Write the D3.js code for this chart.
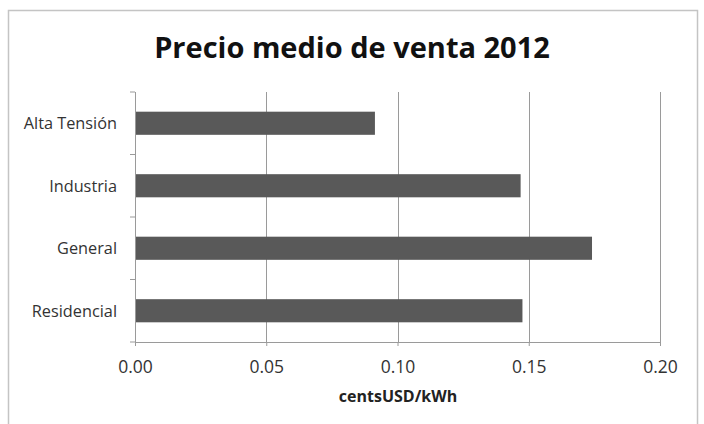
<!DOCTYPE html>
<html><head><meta charset="utf-8">
<script src="https://cdn.jsdelivr.net/npm/d3@7"></script>
<style>body{margin:0;background:#fff;}svg{display:block;}</style>
</head><body>
<svg id="c" width="704" height="424"></svg>
<script>
const categories = ["Alta Tensión", "Industria", "General", "Residencial"];
const values = [0.0914, 0.1469, 0.1741, 0.1476];
const xTicks = [0, 0.05, 0.10, 0.15, 0.20];
const title = "Precio medio de venta 2012";
const xTitle = "centsUSD/kWh";

const svg = d3.select("#c");
const font = "'Open Sans', 'Noto Sans', sans-serif";
svg.append("rect").attr("x",8.5).attr("y",10.5).attr("width",689).attr("height",420)
  .attr("fill","#fff").attr("stroke","#c4c4c4").attr("stroke-width",1.5);

const m = {left:135, right:660, top:92, bottom:342};
const x = d3.scaleLinear().domain([0,0.2]).range([m.left,m.right]);
const y = d3.scaleBand().domain(categories).range([m.top,m.bottom]).paddingInner(0.63).paddingOuter(0.315);

// gridlines
svg.append("g").selectAll("line").data(xTicks.slice(1)).join("line")
  .attr("x1",d=>Math.round(x(d))+0.5).attr("x2",d=>Math.round(x(d))+0.5)
  .attr("y1",m.top).attr("y2",m.bottom).attr("stroke","#9a9a9a").attr("stroke-width",1);

// bars
svg.append("g").selectAll("rect").data(categories).join("rect")
  .attr("x",x(0)).attr("y",d=>y(d)).attr("height",y.bandwidth())
  .attr("width",(d,i)=>x(values[i])-x(0)).attr("fill","#595959");

// x axis
const xa = svg.append("g").attr("transform",`translate(0,${m.bottom})`)
  .call(d3.axisBottom(x).tickValues(xTicks).tickFormat(d3.format(".2f")).tickSize(4).tickSizeOuter(0));
xa.select(".domain").attr("stroke","#9a9a9a");
xa.selectAll(".tick line").attr("stroke","#9a9a9a");
xa.selectAll("text").attr("font-family",font).attr("font-size",17.5).attr("fill","#333")
  .attr("y",0).attr("dy",0).attr("transform","translate(0,30.5)");

// y axis
const yEdges = d3.range(categories.length+1).map(i=>m.top + i*(m.bottom-m.top)/categories.length);
svg.append("line").attr("x1",m.left+0.5).attr("x2",m.left+0.5).attr("y1",m.top).attr("y2",m.bottom)
  .attr("stroke","#9a9a9a");
svg.append("g").selectAll("line").data(yEdges).join("line")
  .attr("x1",m.left-5).attr("x2",m.left).attr("y1",d=>d).attr("y2",d=>d).attr("stroke","#9a9a9a");
svg.append("g").selectAll("text").data(categories).join("text")
  .attr("x",117).attr("y",d=>y(d)+y.bandwidth()/2).attr("dy","0.36em")
  .attr("text-anchor","end").attr("font-family",font).attr("font-size",16.3).attr("fill","#333")
  .text(d=>d);

// titles
svg.append("text").attr("x",352).attr("y",58).attr("text-anchor","middle")
  .attr("font-family",font).attr("font-weight","bold").attr("font-size",29).attr("fill","#111")
  .text(title);
svg.append("text").attr("x",398).attr("y",402).attr("text-anchor","middle")
  .attr("font-family",font).attr("font-weight","bold").attr("font-size",16).attr("fill","#222")
  .text(xTitle);
</script>
</body></html>
